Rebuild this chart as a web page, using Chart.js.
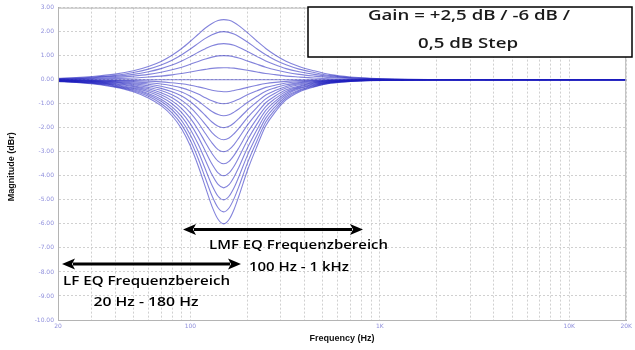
<!DOCTYPE html>
<html><head><meta charset="utf-8">
<script src="https://cdn.jsdelivr.net/npm/chart.js@4.4.1/dist/chart.umd.min.js"></script>
<style>html,body{margin:0;padding:0;background:#fff;}#wrap{width:635px;height:350px;}</style>
</head><body><div id="wrap"><canvas id="c" width="635" height="350"></canvas></div>
<script>
// Frequencies (Hz) shared by all curves
const frequencies = [20, 25, 30, 40, 50, 60, 70, 80, 90, 100, 110, 120, 130, 140, 150, 160, 170, 180, 200, 225, 250, 280, 320, 375, 450, 550, 700, 900, 1200, 2000, 20000];

// Magnitude (dBr) per gain step
const gainPlus25  = [0.06, 0.09, 0.13, 0.23, 0.37, 0.55, 0.76, 1.02, 1.30, 1.60, 1.89, 2.15, 2.34, 2.46, 2.50, 2.47, 2.38, 2.25, 1.96, 1.60, 1.30, 1.03, 0.77, 0.55, 0.37, 0.21, 0.11, 0.06, 0.03, 0.01, 0];
const gainPlus20  = [0.04, 0.07, 0.10, 0.18, 0.30, 0.44, 0.61, 0.81, 1.04, 1.28, 1.51, 1.72, 1.87, 1.97, 2.00, 1.97, 1.90, 1.80, 1.57, 1.28, 1.04, 0.82, 0.62, 0.44, 0.30, 0.17, 0.09, 0.05, 0.02, 0.01, 0];
const gainPlus15  = [0.03, 0.05, 0.08, 0.14, 0.22, 0.33, 0.46, 0.61, 0.78, 0.96, 1.14, 1.29, 1.41, 1.48, 1.50, 1.48, 1.43, 1.35, 1.17, 0.96, 0.78, 0.62, 0.46, 0.33, 0.22, 0.13, 0.07, 0.04, 0.02, 0.01, 0];
const gainPlus10  = [0.02, 0.04, 0.05, 0.09, 0.15, 0.22, 0.31, 0.41, 0.52, 0.64, 0.76, 0.86, 0.94, 0.99, 1.00, 0.99, 0.95, 0.90, 0.78, 0.64, 0.52, 0.41, 0.31, 0.22, 0.15, 0.09, 0.05, 0.03, 0.01, 0, 0];
const gainPlus05  = [0.01, 0.02, 0.03, 0.05, 0.07, 0.11, 0.15, 0.20, 0.26, 0.32, 0.38, 0.43, 0.47, 0.49, 0.50, 0.49, 0.48, 0.45, 0.39, 0.32, 0.26, 0.21, 0.15, 0.11, 0.07, 0.04, 0.02, 0.01, 0.01, 0, 0];
const gainZero    = [0, 0, 0, 0, 0, 0, 0, 0, 0, 0, 0, 0, 0, 0, 0, 0, 0, 0, 0, 0, 0, 0, 0, 0, 0, 0, 0, 0, 0, 0, 0];
const gainMinus05 = [-0.01, -0.01, -0.01, -0.03, -0.04, -0.06, -0.09, -0.13, -0.17, -0.23, -0.30, -0.37, -0.44, -0.48, -0.50, -0.49, -0.45, -0.41, -0.32, -0.23, -0.16, -0.11, -0.07, -0.04, -0.03, -0.01, -0.01, 0, 0, 0, 0];
const gainMinus10 = [-0.01, -0.02, -0.03, -0.05, -0.08, -0.13, -0.18, -0.25, -0.34, -0.46, -0.60, -0.75, -0.88, -0.97, -1.00, -0.97, -0.90, -0.81, -0.63, -0.46, -0.32, -0.23, -0.14, -0.09, -0.05, -0.03, -0.01, -0.01, 0, 0, 0];
const gainMinus15 = [-0.02, -0.03, -0.04, -0.08, -0.13, -0.19, -0.27, -0.38, -0.51, -0.69, -0.90, -1.12, -1.32, -1.45, -1.50, -1.46, -1.35, -1.22, -0.95, -0.69, -0.48, -0.34, -0.21, -0.13, -0.08, -0.04, -0.02, -0.01, 0, 0, 0];
const gainMinus20 = [-0.02, -0.04, -0.06, -0.10, -0.17, -0.25, -0.36, -0.50, -0.68, -0.92, -1.20, -1.49, -1.76, -1.94, -2.00, -1.94, -1.80, -1.62, -1.26, -0.92, -0.64, -0.45, -0.28, -0.17, -0.10, -0.05, -0.02, -0.01, -0.01, 0, 0];
const gainMinus25 = [-0.03, -0.05, -0.07, -0.13, -0.21, -0.32, -0.45, -0.63, -0.86, -1.15, -1.50, -1.86, -2.20, -2.42, -2.50, -2.43, -2.25, -2.03, -1.58, -1.15, -0.80, -0.56, -0.35, -0.21, -0.13, -0.06, -0.03, -0.02, -0.01, 0, 0];
const gainMinus30 = [-0.04, -0.06, -0.08, -0.16, -0.25, -0.38, -0.54, -0.75, -1.03, -1.38, -1.79, -2.24, -2.63, -2.91, -3.00, -2.91, -2.70, -2.43, -1.89, -1.38, -0.96, -0.68, -0.42, -0.26, -0.15, -0.08, -0.04, -0.02, -0.01, 0, 0];
const gainMinus35 = [-0.04, -0.07, -0.10, -0.18, -0.29, -0.44, -0.63, -0.88, -1.20, -1.61, -2.09, -2.61, -3.07, -3.39, -3.50, -3.40, -3.15, -2.84, -2.21, -1.61, -1.12, -0.79, -0.49, -0.30, -0.18, -0.09, -0.04, -0.02, -0.01, 0, 0];
const gainMinus40 = [-0.05, -0.08, -0.11, -0.21, -0.34, -0.50, -0.72, -1.00, -1.37, -1.84, -2.39, -2.98, -3.51, -3.88, -4.00, -3.88, -3.60, -3.24, -2.52, -1.84, -1.28, -0.90, -0.56, -0.34, -0.20, -0.10, -0.05, -0.02, -0.01, 0, 0];
const gainMinus45 = [-0.05, -0.09, -0.13, -0.23, -0.38, -0.57, -0.81, -1.13, -1.54, -2.07, -2.69, -3.35, -3.95, -4.36, -4.50, -4.37, -4.05, -3.65, -2.84, -2.07, -1.44, -1.01, -0.63, -0.38, -0.23, -0.11, -0.05, -0.03, -0.01, 0, 0];
const gainMinus50 = [-0.06, -0.10, -0.14, -0.26, -0.42, -0.63, -0.90, -1.25, -1.71, -2.30, -2.99, -3.73, -4.39, -4.85, -5.00, -4.85, -4.50, -4.05, -3.15, -2.30, -1.60, -1.13, -0.70, -0.43, -0.25, -0.13, -0.06, -0.03, -0.02, -0.01, 0];
const gainMinus55 = [-0.07, -0.10, -0.15, -0.29, -0.46, -0.69, -0.99, -1.38, -1.88, -2.53, -3.29, -4.10, -4.83, -5.33, -5.50, -5.34, -4.95, -4.46, -3.47, -2.53, -1.76, -1.24, -0.77, -0.47, -0.28, -0.14, -0.07, -0.03, -0.02, -0.01, 0];
const gainMinus60 = [-0.07, -0.11, -0.17, -0.31, -0.50, -0.76, -1.08, -1.50, -2.05, -2.76, -3.59, -4.47, -5.27, -5.81, -6.00, -5.82, -5.40, -4.86, -3.78, -2.76, -1.92, -1.35, -0.84, -0.51, -0.30, -0.15, -0.07, -0.04, -0.02, -0.01, 0];

const gainLabels = ['+2.5', '+2.0', '+1.5', '+1.0', '+0.5', '0', '-0.5', '-1.0', '-1.5', '-2.0', '-2.5', '-3.0', '-3.5', '-4.0', '-4.5', '-5.0', '-5.5', '-6.0'];
const curves = [gainPlus25, gainPlus20, gainPlus15, gainPlus10, gainPlus05, gainZero, gainMinus05, gainMinus10, gainMinus15, gainMinus20, gainMinus25, gainMinus30, gainMinus35, gainMinus40, gainMinus45, gainMinus50, gainMinus55, gainMinus60];

// Axis ticks
const yTickValues = [3, 2, 1, 0, -1, -2, -3, -4, -5, -6, -7, -8, -9, -10];
const xGridValues = [20, 30, 40, 50, 60, 70, 80, 90, 100, 200, 300, 400, 500, 600, 700, 800, 900, 1000, 2000, 3000, 4000, 5000, 6000, 7000, 8000, 9000, 10000, 20000];
const xLabelValues = [20, 100, 1000, 10000, 20000];
const xLabelTexts = ['20', '100', '1K', '10K', '20K'];

// Annotation texts
const boxLines = ['Gain = +2,5 dB / -6 dB /', '0,5 dB Step'];
const lmfLines = ['LMF EQ Frequenzbereich', '100 Hz - 1 kHz'];
const lfLines = ['LF EQ Frequenzbereich', '20 Hz - 180 Hz'];

const TICK_COLOR = '#8f8fdc';
const ANN_FONT = '"Open Sans", "DejaVu Sans", sans-serif';

// draw text at fixed font size, stretched horizontally to the reference width
function fitText(ctx, text, cx, cy, targetW, size, weight) {
  ctx.font = weight + ' ' + size + 'px ' + ANN_FONT;
  const w = ctx.measureText(text).width;
  const sx = targetW / w;
  ctx.save();
  ctx.translate(cx, cy);
  ctx.scale(sx, 1);
  ctx.textAlign = 'center';
  ctx.textBaseline = 'middle';
  ctx.fillText(text, 0, 0);
  ctx.restore();
}
function arrow(ctx, x1, x2, y) {
  const hl = 13, hh = 5.5;
  ctx.strokeStyle = '#000';
  ctx.fillStyle = '#000';
  ctx.lineWidth = 3;
  ctx.beginPath(); ctx.moveTo(x1 + hl - 2, y); ctx.lineTo(x2 - hl + 2, y); ctx.stroke();
  ctx.beginPath(); ctx.moveTo(x1, y); ctx.lineTo(x1 + hl, y - hh); ctx.lineTo(x1 + hl - 3, y); ctx.lineTo(x1 + hl, y + hh); ctx.closePath(); ctx.fill();
  ctx.beginPath(); ctx.moveTo(x2, y); ctx.lineTo(x2 - hl, y - hh); ctx.lineTo(x2 - hl + 3, y); ctx.lineTo(x2 - hl, y + hh); ctx.closePath(); ctx.fill();
}

const overlay = {
  id: 'overlay',
  afterDraw(chart) {
    const ctx = chart.ctx;
    const a = chart.chartArea;
    ctx.save();
    // plot frame
    ctx.strokeStyle = '#b4b4b4';
    ctx.lineWidth = 1;
    ctx.strokeRect(a.left + 0.5, a.top + 0.5, a.right - a.left - 1, a.bottom - a.top);
    // axis titles
    ctx.fillStyle = '#111';
    ctx.font = 'bold 9px "Liberation Sans", Arial, sans-serif';
    ctx.textAlign = 'center';
    ctx.textBaseline = 'middle';
    ctx.fillText('Frequency (Hz)', (a.left + a.right) / 2, 339);
    ctx.save();
    ctx.translate(12, (a.top + a.bottom) / 2 + 3);
    ctx.rotate(-Math.PI / 2);
    ctx.fillText('Magnitude (dBr)', 0, 0);
    ctx.restore();
    // gain box
    ctx.fillStyle = '#fff';
    ctx.fillRect(308, 7, 324, 50);
    ctx.strokeStyle = '#000';
    ctx.lineWidth = 1.5;
    ctx.strokeRect(308, 7, 324, 50);
    ctx.fillStyle = '#1a1a1a';
    fitText(ctx, boxLines[0], 469, 16, 202, 14.5, '600');
    fitText(ctx, boxLines[1], 468, 44, 100, 14.5, '600');
    // arrows and range texts
    arrow(ctx, 183, 363, 229.5);
    fitText(ctx, lmfLines[0], 298.5, 245, 179, 12.5, '600');
    fitText(ctx, lmfLines[1], 299, 267, 100, 12.5, '600');
    arrow(ctx, 62, 241, 264);
    fitText(ctx, lfLines[0], 146.5, 281, 167, 12.5, '600');
    fitText(ctx, lfLines[1], 146, 302, 105, 12.5, '600');
    ctx.restore();
  }
};

const datasets = curves.map((vals, k) => ({
  label: gainLabels[k] + ' dB',
  data: frequencies.map((f, i) => ({ x: f, y: vals[i] })),
  borderColor: 'rgba(30,30,190,0.55)',
  borderWidth: 1.1,
  pointRadius: 0,
  fill: false,
  cubicInterpolationMode: 'monotone'
}));

new Chart(document.getElementById('c'), {
  type: 'line',
  data: { datasets },
  options: {
    responsive: false,
    animation: false,
    devicePixelRatio: 1,
    layout: { padding: { top: 5, right: 1, left: 0, bottom: 0 } },
    plugins: { legend: { display: false }, tooltip: { enabled: false }, title: { display: false } },
    scales: {
      x: {
        type: 'logarithmic',
        min: 20, max: 20000,
        afterBuildTicks(scale) { scale.ticks = xGridValues.map(v => ({ value: v })); },
        afterFit(scale) { scale.height = 30; },
        ticks: {
          autoSkip: false, maxRotation: 0, padding: 3,
          color: TICK_COLOR,
          font: { size: 6, family: '"DejaVu Sans", sans-serif' },
          callback(v) { const i = xLabelValues.indexOf(v); return i >= 0 ? xLabelTexts[i] : ''; }
        },
        grid: { color: '#d0d0d0', lineWidth: 1, drawTicks: false },
        border: { color: '#a8a8a8', dash: [2, 2] }
      },
      y: {
        type: 'linear',
        min: -10, max: 3,
        afterBuildTicks(scale) { scale.ticks = yTickValues.map(v => ({ value: v })); },
        afterFit(scale) { scale.width = 58; },
        ticks: {
          padding: 4,
          color: TICK_COLOR,
          font: { size: 6, family: '"DejaVu Sans", sans-serif' },
          callback(v) { return Number(v).toFixed(2); }
        },
        grid: { color: '#d0d0d0', lineWidth: 1, drawTicks: false },
        border: { color: '#a8a8a8', dash: [2, 2] }
      }
    }
  },
  plugins: [overlay]
});
</script>
</body></html>
